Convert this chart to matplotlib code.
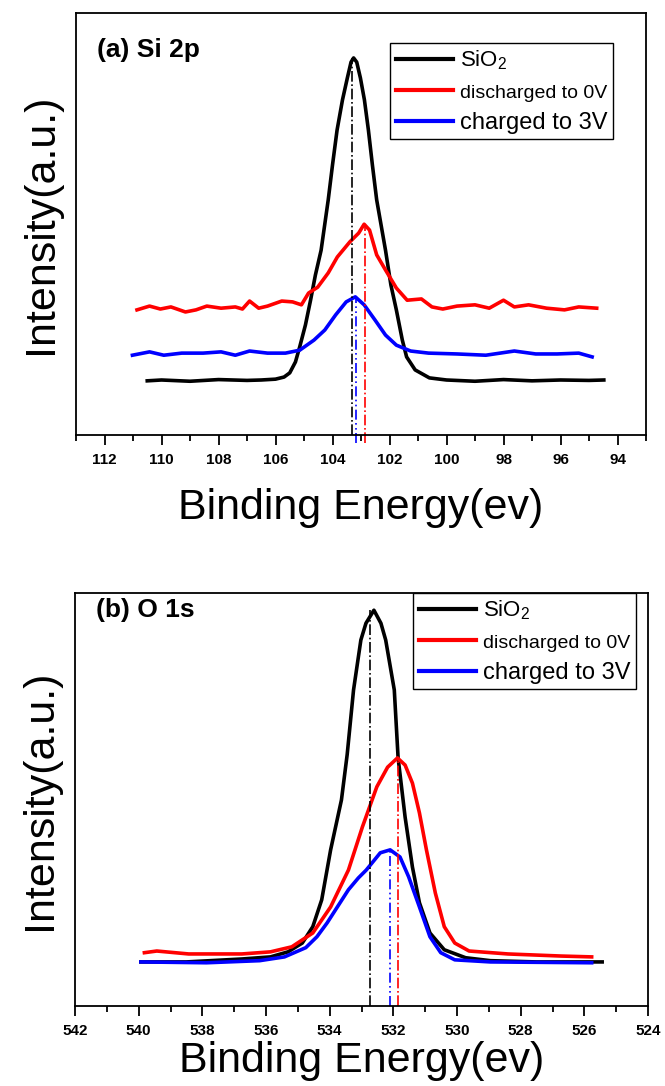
import numpy as np
import matplotlib
matplotlib.use("Agg")
import matplotlib.pyplot as plt
from matplotlib.lines import Line2D
from matplotlib.ticker import MultipleLocator

plt.rcParams["font.family"] = ["Liberation Sans", "DejaVu Sans"]
plt.rcParams["mathtext.default"] = "regular"

# (a) Si 2p spectra, binding energy (eV) vs intensity (a.u.)
si_e_sio2 = [110.5, 110.0, 109.0, 108.0, 107.0, 106.5, 106.0, 105.7, 105.5, 105.3,
             105.15, 104.95, 104.77, 104.6, 104.4, 104.15, 104.0, 103.84, 103.65, 103.48,
             103.35, 103.26, 103.15, 103.02, 102.88, 102.74, 102.6, 102.45, 102.14, 101.95,
             101.76, 101.55, 101.4, 101.1, 100.6, 100.0, 99.0, 98.0, 97.0, 96.0,
             95.0, 94.48]
si_i_sio2 = [129, 131, 128, 132, 130, 131, 133, 138, 148, 174,
             210, 262, 321, 381, 440, 560, 643, 726, 798, 850,
             888, 898, 888, 850, 798, 726, 643, 560, 440, 357,
             298, 226, 186, 155, 136, 131, 128, 132, 129, 131,
             130, 131]

si_e_dis = [110.86, 110.42, 110.04, 109.67, 109.16, 108.79, 108.41, 107.91, 107.41, 107.16,
            106.91, 106.59, 106.28, 105.78, 105.40, 105.09, 104.84, 104.52, 104.15, 103.83,
            103.39, 103.08, 102.89, 102.70, 102.45, 102.14, 101.76, 101.38, 100.88, 100.51,
            100.13, 99.63, 99.00, 98.50, 98.00, 97.62, 97.12, 96.49, 95.86, 95.36, 94.73]
si_i_dis = [298, 307, 300, 305, 293, 298, 307, 302, 305, 300,
            319, 302, 307, 319, 317, 310, 338, 352, 386, 424,
            460, 481, 502, 488, 429, 393, 350, 321, 324, 305,
            300, 307, 310, 302, 321, 305, 310, 302, 298, 305, 302]

si_e_chg = [111.02, 110.42, 109.92, 109.29, 108.54, 107.91, 107.41, 106.91, 106.28, 105.65,
            105.15, 104.65, 104.27, 103.89, 103.52, 103.20, 102.89, 102.51, 102.14, 101.76,
            101.26, 100.63, 99.63, 98.62, 97.62, 96.87, 96.12, 95.36, 94.89]
si_i_chg = [190, 198, 190, 195, 195, 198, 190, 200, 195, 195,
            202, 226, 250, 286, 317, 329, 310, 274, 238, 214,
            200, 195, 193, 190, 200, 193, 193, 195, 186]

si_peaks = [103.33, 102.86, 103.16]   # SiO2, discharged, charged

# (b) O 1s spectra
o_e_sio2 = [539.93, 538.5, 536.76, 535.86, 535.31, 534.86, 534.53, 534.25, 533.97, 533.63,
            533.45, 533.25, 533.02, 532.86, 532.61, 532.39, 532.24, 531.97, 531.85, 531.63,
            531.40, 531.18, 530.85, 530.40, 529.73, 528.95, 527.5, 526.5, 525.44]
o_i_sio2 = [126, 126, 133, 138, 150, 171, 210, 274, 393, 512,
            620, 774, 893, 933, 964, 933, 893, 774, 612, 471,
            352, 267, 195, 155, 136, 129, 126, 126, 126]

o_e_dis = [539.82, 539.43, 538.43, 536.76, 535.86, 535.19, 534.53, 533.97, 533.41, 532.97,
           532.52, 532.18, 531.87, 531.63, 531.40, 531.18, 530.96, 530.68, 530.40, 530.07,
           529.62, 528.40, 526.72, 525.77]
o_i_dis = [148, 152, 145, 145, 150, 162, 195, 257, 345, 448,
           543, 590, 612, 595, 552, 481, 393, 290, 210, 171,
           152, 145, 140, 138]

o_e_chg = [539.93, 537.87, 536.2, 535.42, 534.75, 534.4, 534.08, 533.75, 533.41, 533.1,
           532.85, 532.41, 532.1, 531.79, 531.52, 531.18, 530.85, 530.51, 530.07, 528.95,
           525.77]
o_i_chg = [126, 124, 129, 138, 160, 186, 219, 258, 298, 326,
           345, 386, 393, 376, 329, 257, 186, 148, 131, 126,
           124]

o_peaks = [532.72, 531.85, 532.09]

labels = ["SiO$_2$", "discharged to 0V", "charged to 3V"]
colors = ["black", "red", "blue"]
label_sizes = [16, 14, 17]
peak_styles = ["-.", "-.", (0, (6, 2, 1, 2, 1, 2))]


def draw_panel(ax, series, peaks, xlim, ylim, tag, tag_y, leg_anchor, extend, xpad):
    for (e, i), c in zip(series, colors):
        ax.plot(e, i, color=c, lw=2.6, solid_joinstyle="round")
    for (e, i), p, c, ls in zip(series, peaks, colors, peak_styles):
        lo = ylim[0] - extend if c != "black" else ylim[0]
        ax.vlines(p, lo, np.max(i), colors=c, linestyles=[ls], lw=1.2, clip_on=False)

    ax.set_xlim(*xlim)
    ax.set_ylim(*ylim)
    ax.set_yticks([])
    ax.xaxis.set_major_locator(MultipleLocator(2))
    ax.xaxis.set_minor_locator(MultipleLocator(1))
    ax.tick_params(axis="x", which="major", direction="out", length=7, width=1.3,
                   labelsize=11, pad=6)
    ax.tick_params(axis="x", which="minor", direction="out", length=4, width=1.3)
    plt.setp(ax.get_xticklabels(), fontweight="bold")
    for s in ax.spines.values():
        s.set_linewidth(1.3)
    ax.set_xlabel("Binding Energy(ev)", fontsize=31, labelpad=xpad)
    ax.set_ylabel("Intensity(a.u.)", fontsize=31, labelpad=11)

    ax.text(0.037, tag_y, tag, transform=ax.transAxes, fontsize=19,
            fontweight="bold", va="center")

    handles = [Line2D([], [], color=c, lw=3) for c in colors]
    leg = ax.legend(handles, labels, loc="upper left", bbox_to_anchor=leg_anchor,
                    frameon=True, fancybox=False, edgecolor="black", framealpha=1,
                    borderaxespad=0, handlelength=2.6, handletextpad=0.3,
                    borderpad=0.25, labelspacing=0.45, fontsize=16)
    leg.get_frame().set_linewidth(1.0)
    for t, sz in zip(leg.get_texts(), label_sizes):
        t.set_fontsize(sz)


fig = plt.figure(figsize=(6.65, 10.86), dpi=100)
ax1 = fig.add_axes([76 / 665, 1 - 435 / 1086, 570 / 665, 422 / 1086])
ax2 = fig.add_axes([75 / 665, 1 - 1006 / 1086, 573 / 665, 413 / 1086])

draw_panel(ax1,
           [(si_e_sio2, si_i_sio2), (si_e_dis, si_i_dis), (si_e_chg, si_i_chg)],
           si_peaks, (113, 93), (0, 1005), "(a) Si 2p", 0.912, (0.551, 0.929), 18, 15)
draw_panel(ax2,
           [(o_e_sio2, o_i_sio2), (o_e_dis, o_i_dis), (o_e_chg, o_i_chg)],
           o_peaks, (542, 524), (21, 1005), "(b) O 1s", 0.959, (0.59, 1.0), 0, 2)

fig.savefig("out.png", dpi=100)
